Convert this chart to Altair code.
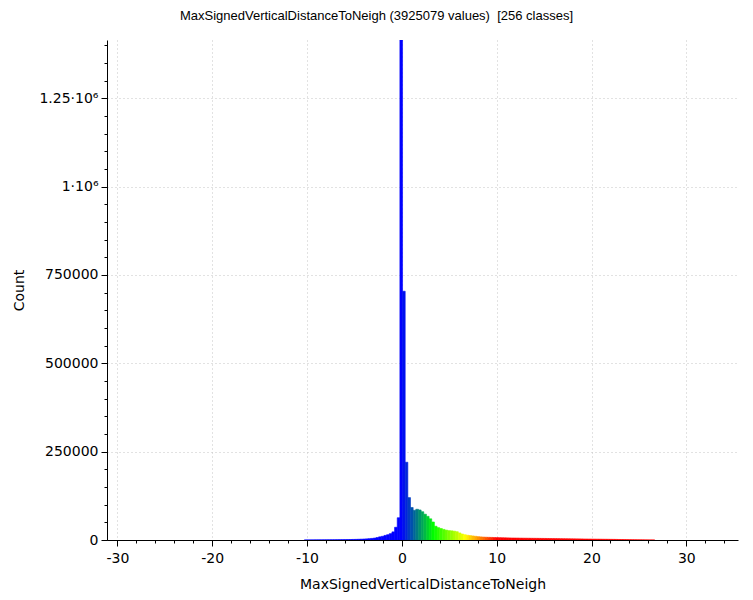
import altair as alt
import pandas as pd

title_text = "MaxSignedVerticalDistanceToNeigh (3925079 values)\u00a0 [256 classes]"
x_title = "MaxSignedVerticalDistanceToNeigh"
y_title = "Count"

x_domain = [-31.1, 35.45]
y_domain = [0, 1415000]
x_major_ticks = [-30, -20, -10, 0, 10, 20, 30]
x_minor_ticks = [-30, -28, -26, -24, -22, -20, -18, -16, -14, -12, -10, -8, -6, -4, -2,
                 0, 2, 4, 6, 8, 10, 12, 14, 16, 18, 20, 22, 24, 26, 28, 30, 32, 34]
y_major_ticks = [0, 250000, 500000, 750000, 1000000, 1250000]
y_minor_ticks = [0, 50000, 100000, 150000, 200000, 250000, 300000, 350000, 400000, 450000,
                 500000, 550000, 600000, 650000, 700000, 750000, 800000, 850000, 900000,
                 950000, 1000000, 1050000, 1100000, 1150000, 1200000, 1250000, 1300000,
                 1350000, 1400000]

# histogram classes (only the visible, non-empty ones)
bin_width = 0.28
first_bin_start = -10.29
counts = [
    150, 200, 250, 300, 350, 400, 450, 500, 550, 600, 650, 700, 800, 900, 1000, 1100,
    1200, 1400, 1600, 1800, 2100, 2400, 2800, 3200, 3800, 4500, 5500, 7000, 9000, 10500,
    13000, 15000, 18000, 23000, 36000, 63000,
    1415000,
    704000, 220000, 120000, 92000, 84000, 87000, 85000, 80000, 73000, 67000,
    60000, 51000, 39000, 35000, 32500, 30000, 28000, 26500, 26000, 25000,
    23500, 20000, 17000, 15000, 13500, 12500, 11500, 10500, 9500,
    8800, 8300, 7900, 7600,
    7300, 7000, 6800, 6600, 6400, 6200, 6000,
    5800, 5700, 5600, 5500, 5300, 5200, 5100, 5000, 4900, 4800,
    4700, 4600, 4500, 4400, 4300, 4200, 4100, 4000, 3900, 3800,
    3700, 3600, 3500, 3400, 3300, 3200, 3100, 3000, 2900, 2800,
    2700, 2600, 2500, 2400, 2300, 2200, 2100, 2000, 1900, 1800,
    1650, 1500, 1350, 1200, 1050, 900, 800, 700, 600, 500,
    400, 300, 220, 150, 100,
]

color_stops = [0, 3.333, 6.667, 10]
color_range = ["#0000ff", "#00ff00", "#ffff00", "#ff0000"]

starts = [first_bin_start + i * bin_width for i in range(len(counts))]
df = pd.DataFrame({
    "start": starts,
    "end": [s + bin_width for s in starts],
    "center": [s + bin_width / 2 for s in starts],
    "count": counts,
})

xs = alt.Scale(domain=x_domain, nice=False, zero=False)
ys = alt.Scale(domain=y_domain, nice=False)
cs = alt.Scale(domain=color_stops, range=color_range, interpolate="rgb", clamp=True)

bars = alt.Chart(df).mark_bar(clip=True, strokeWidth=0.6).encode(
    x=alt.X("start:Q", scale=xs,
            axis=alt.Axis(values=x_major_ticks, title=x_title, grid=True, tickSize=6,
                          labelPadding=5, titlePadding=12, orient="bottom",
                          labelExpr="toString(datum.value)")),
    x2="end:Q",
    y=alt.Y("count:Q", scale=ys,
            axis=alt.Axis(values=y_major_ticks, title=y_title, grid=True, tickSize=6,
                          labelPadding=3, titlePadding=12, orient="left",
                          labelExpr="datum.value >= 1000000 ? toString(datum.value / 1000000) + '·10⁶' : toString(datum.value)")),
    y2=alt.datum(0),
    color=alt.Color("center:Q", scale=cs, legend=None),
    stroke=alt.Stroke("center:Q", scale=cs, legend=None),
)

minor = alt.Chart(df).mark_bar(opacity=0).encode(
    x=alt.X("start:Q", scale=xs,
            axis=alt.Axis(values=x_minor_ticks, labels=False, title=None, grid=False,
                          tickSize=3, domain=False, orient="bottom")),
    x2="end:Q",
    y=alt.Y("count:Q", scale=ys,
            axis=alt.Axis(values=y_minor_ticks, labels=False, title=None, grid=False,
                          tickSize=3, domain=False, orient="left")),
    y2=alt.datum(0),
)

chart = alt.layer(bars, minor).resolve_axis(
    x="independent", y="independent"
).properties(
    width=631,
    height=500,
    title=alt.TitleParams(title_text, anchor="middle", dx=-46, offset=17),
    padding={"left": 99, "top": 32, "right": 7, "bottom": 52},
    autosize=alt.AutoSizeParams(type="none"),
).configure_view(
    strokeWidth=0
).configure_axis(
    labelFont="DejaVu Sans", labelFontSize=14, labelColor="black",
    titleFont="DejaVu Sans", titleFontSize=14, titleFontWeight="normal", titleColor="black",
    domainColor="black", tickColor="black", gridColor="#c4c4c4", gridDash=[1, 3],
).configure_title(
    font="Liberation Sans", fontSize=13, fontWeight="normal", color="black",
)

chart.save("out.html", embed_options={"renderer": "svg", "actions": False})
